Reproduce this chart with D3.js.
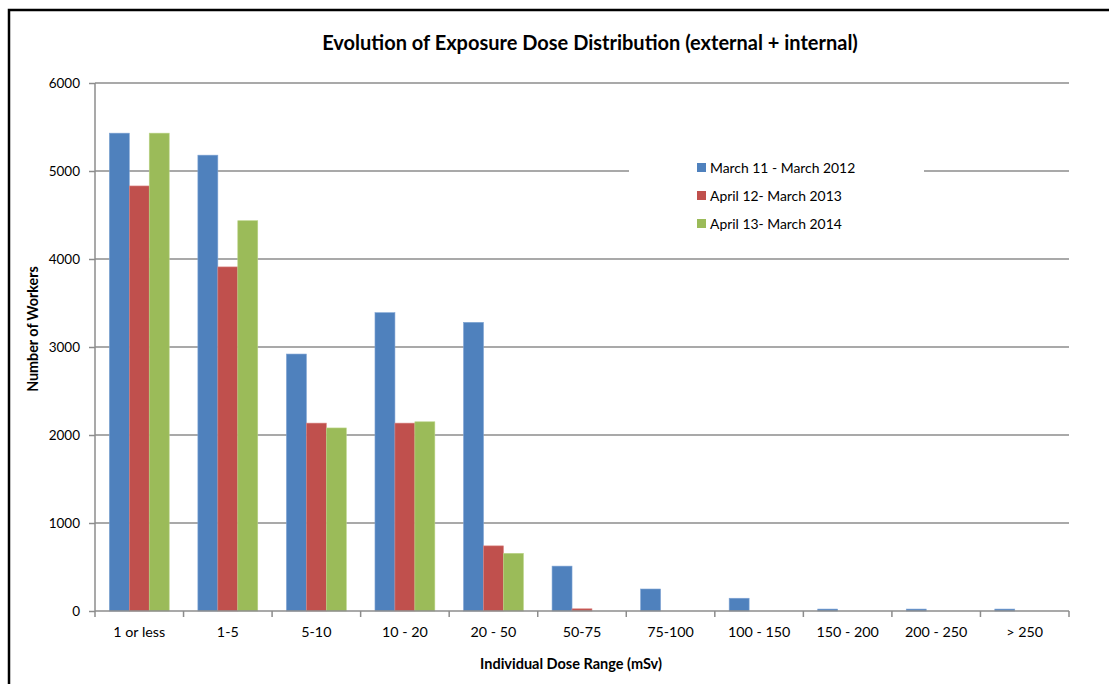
<!DOCTYPE html>
<html><head><meta charset="utf-8">
<script src="https://cdn.jsdelivr.net/npm/d3@7"></script>
<style>body{margin:0;background:#fff}svg{display:block}text{font-family:Lato,"Open Sans",sans-serif;fill:#000}</style>
</head><body>
<script>
const categories = ["1 or less","1-5","5-10","10 - 20","20 - 50","50-75","75-100","100 - 150","150 - 200","200 - 250","> 250"];
const seriesNames = ["March 11 - March 2012","April 12- March 2013","April 13- March 2014"];
const march2012 = [5430,5180,2920,3390,3280,510,250,145,22,22,22];
const april2013 = [4830,3910,2135,2135,740,25,0,0,0,0,0];
const april2014 = [5430,4435,2080,2150,655,0,0,0,0,0,0];
const yTicks = [0,1000,2000,3000,4000,5000,6000];
const colors = ["#4F81BD","#C0504D","#9BBB59"];
const edge = ["#7EA3D3","#D98482","#B9D384"];

const W=1109,H=684;
const svg=d3.select("body").append("svg").attr("width",W).attr("height",H);
svg.append("rect").attr("x",9).attr("y",10).attr("width",1200).attr("height",800).attr("fill","#fff").attr("stroke","#000").attr("stroke-width",2.5);

const x0=d3.scaleBand().domain(categories).range([95,1069]).padding(0);
const x1=d3.scaleBand().domain(d3.range(3)).range([x0.bandwidth()*0.162,x0.bandwidth()*0.838]).padding(0);
const y=d3.scaleLinear().domain([0,6000]).range([611,83]);

svg.append("g").selectAll("line").data(yTicks.slice(1)).join("line")
 .attr("x1",95).attr("x2",1069).attr("y1",d=>y(d)).attr("y2",d=>y(d))
 .attr("stroke","#8c8c8c").attr("stroke-width",1.5);

svg.append("rect").attr("x",629).attr("y",150).attr("width",295).attr("height",90).attr("fill","#fff");

const series=[march2012,april2013,april2014];
const g=svg.append("g");
categories.forEach((c,i)=>{
  series.forEach((s,k)=>{
    const v=s[i]; if(!v) return;
    g.append("rect").attr("x",x0(c)+x1(k)).attr("width",x1.bandwidth())
     .attr("y",y(v)).attr("height",y(0)-y(v)).attr("fill",colors[k])
     .attr("stroke",edge[k]).attr("stroke-width",0.6);
  });
});

const ya=svg.append("g").attr("transform","translate(95,0)")
 .call(d3.axisLeft(y).tickValues(yTicks).tickSize(6).tickPadding(9).tickFormat(d3.format("d")));
ya.selectAll("path,line").attr("stroke","#8c8c8c").attr("stroke-width",1.5);
ya.select(".domain").attr("d","M0,83V611");
ya.selectAll("text").attr("font-size",13.5).attr("font-family","Lato");

const xa=svg.append("g").attr("transform","translate(0,611)");
xa.append("line").attr("x1",95).attr("x2",1069).attr("stroke","#8c8c8c").attr("stroke-width",1.5);
const bounds=categories.map(c=>x0(c)).concat([x0(categories[categories.length-1])+x0.bandwidth()]);
xa.selectAll("line.t").data(bounds).join("line").attr("class","t")
 .attr("x1",d=>d).attr("x2",d=>d).attr("y1",0).attr("y2",6).attr("stroke","#8c8c8c").attr("stroke-width",1.5);
xa.selectAll("text").data(categories).join("text")
 .attr("x",c=>x0(c)+x0.bandwidth()/2).attr("y",26).attr("text-anchor","middle").attr("font-size",14.3).text(c=>c);

svg.append("text").attr("x",590).attr("y",50).attr("text-anchor","middle").attr("font-size",20).attr("font-weight","bold")
 .text("Evolution of Exposure Dose Distribution (external + internal)");
svg.append("text").attr("transform","translate(38,329) rotate(-90)").attr("text-anchor","middle").attr("font-size",14.3).attr("font-weight","bold").text("Number of Workers");
svg.append("text").attr("x",571).attr("y",669).attr("text-anchor","middle").attr("font-size",14.5).attr("font-weight","bold").text("Individual Dose Range (mSv)");

const lg=svg.append("g");
seriesNames.forEach((n,k)=>{
  const cy=168+k*28;
  lg.append("rect").attr("x",697).attr("y",cy-5).attr("width",9).attr("height",9).attr("fill",colors[k]);
  lg.append("text").attr("x",710).attr("y",cy+5).attr("font-size",13.9).text(n);
});
</script>
</body></html>
